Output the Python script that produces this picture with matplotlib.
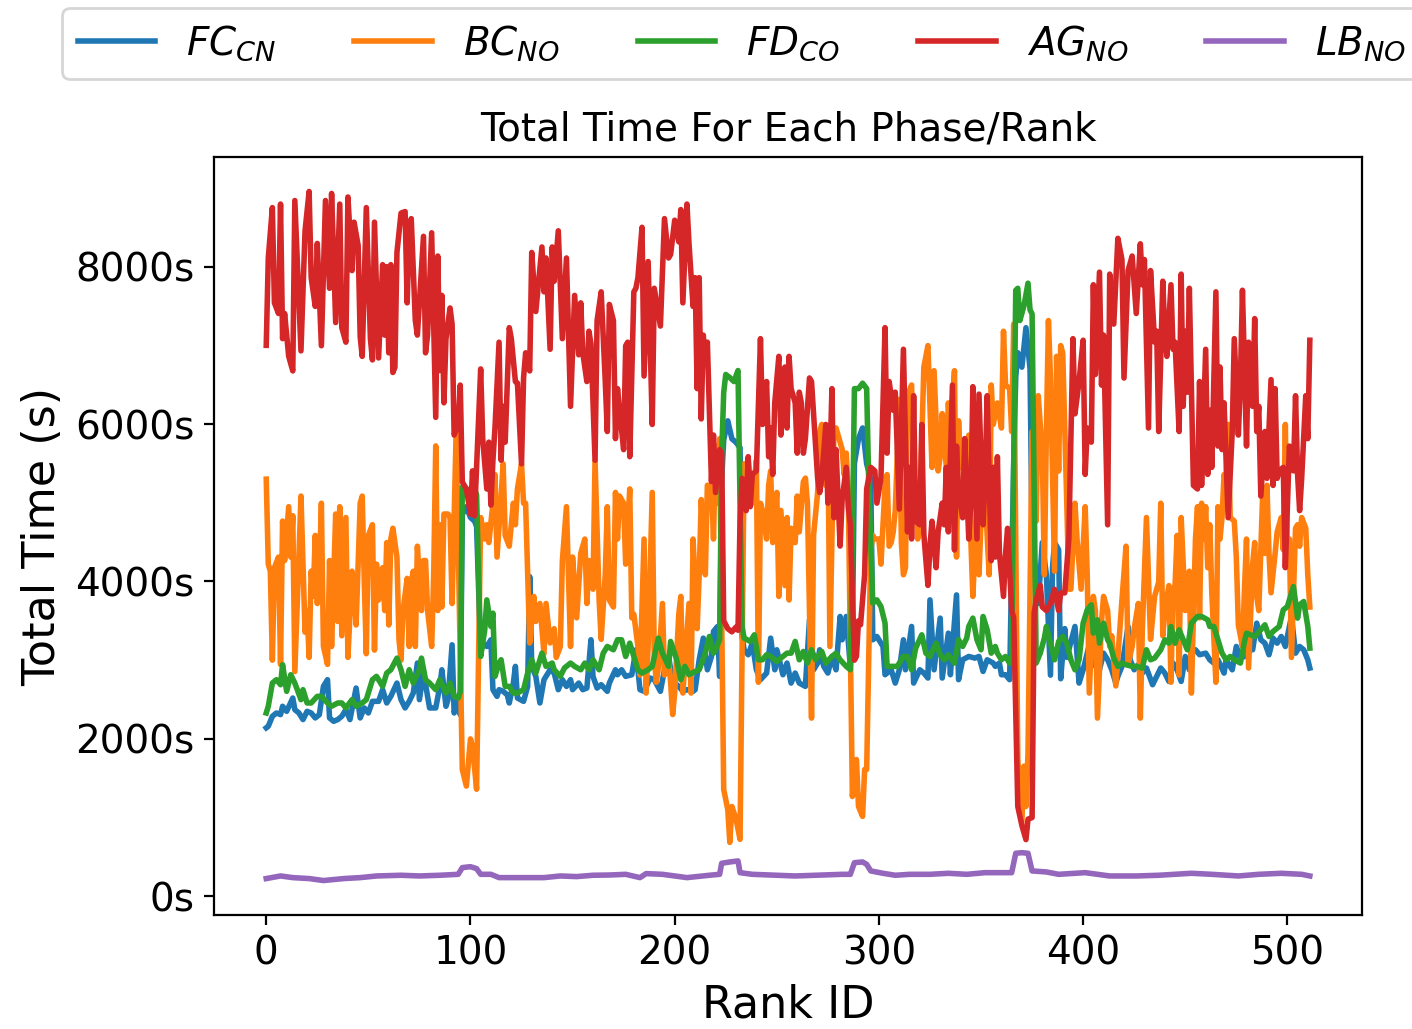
import matplotlib
matplotlib.use("Agg")
import matplotlib.pyplot as plt
from matplotlib.ticker import FuncFormatter, MultipleLocator

# Total time per rank for each phase.
# Each phase has its own list of rank ids and the times at those ranks.

fc_rank = [0, 1, 3, 5, 7, 8, 10, 13, 14, 16, 18, 20, 22, 24, 26, 28, 30, 31, 33, 35,
           37, 39, 41, 44, 46, 48, 50, 52, 55, 57, 59, 61, 64, 66, 68, 70, 72, 74, 75, 77,
           79, 80, 83, 85, 86, 88, 89, 91, 92, 94, 95, 96, 98, 100, 102, 103, 105, 106, 108, 110,
           111, 113, 114, 116, 118, 119, 121, 122, 123, 126, 128, 129, 130, 132, 134, 136, 139, 141, 143, 145,
           147, 149, 150, 153, 155, 157, 159, 160, 162, 164, 167, 168, 171, 172, 174, 176, 179, 181, 183, 185,
           188, 190, 193, 195, 197, 199, 202, 204, 206, 209, 210, 212, 214, 216, 218, 219, 221, 222, 223, 224,
           226, 228, 230, 232, 233, 234, 236, 238, 240, 242, 245, 247, 249, 250, 253, 255, 257, 259, 261, 264,
           266, 268, 270, 271, 273, 275, 277, 279, 281, 282, 284, 286, 287, 288, 290, 292, 294, 296, 297, 299,
           300, 302, 303, 306, 308, 310, 312, 313, 316, 317, 320, 322, 324, 325, 327, 330, 331, 334, 335, 338,
           339, 341, 344, 347, 349, 351, 353, 356, 357, 359, 360, 362, 364, 366, 367, 368, 370, 372, 374, 375,
           377, 378, 380, 382, 384, 385, 386, 388, 389, 391, 392, 396, 398, 400, 403, 404, 406, 408, 410, 412,
           414, 416, 417, 419, 422, 423, 425, 427, 429, 431, 434, 436, 438, 440, 442, 444, 446, 448, 450, 452,
           453, 455, 457, 460, 462, 464, 466, 469, 470, 473, 475, 477, 479, 481, 483, 485, 487, 489, 491, 493,
           495, 497, 499, 501, 502, 504, 506, 508, 510, 511]
fc_time = [2140, 2160, 2287, 2329, 2308, 2414, 2350, 2519, 2371, 2329, 2245, 2350, 2329, 2266, 2308, 2667, 2752, 2266, 2223, 2245,
           2287, 2371, 2245, 2646, 2266, 2393, 2329, 2477, 2477, 2625, 2456, 2540, 2709, 2498, 2393, 2477, 2583, 2963, 2498, 2857,
           2540, 2393, 2393, 2667, 2878, 2414, 2498, 3195, 2329, 2498, 2308, 4850, 4950, 4812, 4767, 4700, 3090, 3216, 3174, 3259,
           2625, 2540, 2625, 2604, 2561, 2456, 2709, 2921, 2519, 2477, 2667, 4062, 2921, 2794, 2456, 2752, 2878, 2836, 2625, 2752,
           2667, 2752, 2625, 2709, 2625, 2646, 3259, 2794, 2646, 2688, 2604, 2709, 2878, 2815, 2878, 2794, 2815, 3132, 2625, 2604,
           2773, 2752, 2604, 2878, 3047, 2731, 2667, 2604, 2625, 2604, 2625, 3005, 3280, 2878, 3047, 3365, 3428, 2794, 5300, 5800,
           6041, 5813, 5768, 5700, 3301, 3132, 3069, 3216, 2878, 2752, 2836, 3280, 2878, 3132, 2815, 2963, 2709, 2836, 2709, 2667,
           3512, 2878, 2963, 3132, 2921, 2836, 3047, 2878, 3555, 3259, 3555, 2921, 3259, 5500, 5813, 5950, 5495, 5300, 3259, 3301,
           3259, 3174, 2815, 2878, 2709, 2878, 3259, 2878, 3428, 2709, 2878, 2836, 2773, 3766, 2878, 3534, 2773, 3343, 2815, 3829,
           2752, 3005, 3047, 3026, 3047, 2857, 3005, 2963, 2921, 2963, 2815, 2815, 2752, 5500, 6600, 6906, 6723, 7224, 6700, 4500,
           4085, 3720, 4494, 4085, 2810, 4175, 4494, 4403, 2764, 3401, 3035, 3428, 2709, 2878, 3195, 2921, 3047, 2878, 3089, 3005,
           2878, 2709, 2794, 2921, 3428, 3005, 2878, 2942, 2836, 2900, 2688, 2794, 2900, 2836, 2730, 2963, 2878, 2730, 3047, 2878,
           3089, 3132, 3069, 3089, 3005, 2963, 3005, 2836, 3005, 2878, 3174, 3026, 3047, 3174, 3132, 3470, 3259, 3216, 3069, 3280,
           3216, 3301, 3174, 3428, 3555, 3089, 3174, 3132, 3005, 2900]

bc_rank = [0, 1, 2, 3, 4, 6, 7, 8, 9, 11, 12, 13, 14, 16, 17, 19, 20, 21, 22, 23,
           24, 25, 26, 27, 28, 30, 31, 32, 34, 35, 36, 37, 39, 40, 42, 43, 44, 46, 47, 48,
           49, 50, 52, 53, 54, 55, 57, 58, 59, 60, 61, 62, 64, 65, 66, 67, 69, 70, 71, 72,
           73, 74, 76, 77, 78, 79, 81, 82, 83, 84, 85, 86, 87, 89, 90, 91, 93, 96, 98, 100,
           101, 103, 105, 107, 108, 109, 111, 112, 113, 115, 116, 117, 119, 120, 121, 122, 123, 125, 126, 127,
           129, 131, 132, 134, 136, 137, 139, 141, 142, 144, 145, 147, 149, 150, 152, 154, 156, 157, 158, 160,
           161, 163, 164, 166, 167, 168, 170, 171, 172, 173, 175, 176, 178, 179, 180, 182, 183, 185, 186, 187,
           189, 190, 191, 192, 194, 195, 197, 198, 199, 200, 202, 203, 204, 207, 208, 209, 211, 212, 213, 214,
           215, 216, 218, 219, 220, 221, 222, 224, 226, 227, 228, 230, 232, 234, 235, 236, 238, 240, 241, 242,
           243, 245, 246, 247, 248, 250, 251, 252, 254, 255, 256, 257, 259, 260, 261, 263, 264, 265, 266, 267,
           268, 270, 271, 272, 274, 275, 276, 278, 279, 281, 282, 283, 284, 285, 287, 289, 290, 292, 293, 294,
           296, 297, 298, 300, 301, 303, 304, 305, 306, 307, 308, 310, 311, 312, 313, 314, 316, 317, 319, 320,
           322, 324, 326, 327, 329, 330, 331, 333, 334, 335, 337, 338, 339, 340, 342, 344, 345, 346, 348, 349,
           351, 352, 354, 355, 356, 358, 360, 361, 362, 364, 365, 366, 368, 370, 371, 372, 373, 375, 377, 378,
           380, 381, 382, 383, 384, 386, 387, 388, 389, 390, 392, 393, 394, 396, 397, 399, 401, 402, 403, 405,
           406, 407, 409, 410, 412, 413, 414, 416, 418, 419, 421, 422, 424, 425, 427, 428, 429, 431, 433, 435,
           437, 438, 439, 440, 442, 443, 444, 445, 446, 447, 448, 450, 451, 452, 453, 455, 456, 457, 458, 459,
           460, 461, 462, 463, 465, 466, 467, 468, 469, 470, 471, 472, 474, 475, 476, 478, 479, 480, 481, 483,
           484, 485, 486, 488, 489, 490, 491, 492, 494, 495, 497, 498, 499, 500, 501, 502, 504, 505, 506, 507,
           509, 510, 511]
bc_time = [5300, 4220, 4130, 3000, 4175, 4310, 2946, 4767, 4266, 4950, 4310, 4835, 2855, 4310, 5085, 3355, 3630, 3035, 4130, 3810,
           4585, 3720, 4085, 4994, 3174, 2946, 4266, 3174, 4857, 3492, 4950, 3310, 4812, 3035, 4130, 3856, 3447, 4994, 5085, 3993,
           3082, 4585, 4721, 3128, 4220, 3765, 4175, 3630, 4494, 3447, 4539, 4676, 4310, 3265, 3000, 3630, 4039, 3174, 3993, 4130,
           3174, 4448, 3630, 4266, 4266, 3630, 3174, 4085, 5722, 3630, 4721, 3675, 4857, 4857, 4812, 3720, 5905, 1610, 1400, 2000,
           1900, 1360, 4812, 4539, 4721, 4494, 4994, 5358, 4310, 5085, 5494, 4585, 4448, 4721, 4994, 4721, 5176, 5494, 4994, 4994,
           3219, 3810, 3492, 3720, 3082, 3720, 3219, 3400, 3035, 3174, 4266, 4950, 3174, 4310, 3538, 4357, 4539, 3720, 4266, 3902,
           5540, 3765, 3265, 4085, 4950, 3765, 3675, 5131, 4539, 5085, 4994, 4220, 5176, 3538, 3583, 3174, 2810, 4539, 2582, 3174,
           5131, 3035, 2719, 2900, 3720, 2810, 3035, 2719, 2309, 2582, 3583, 3810, 2582, 3720, 2582, 4539, 3401, 4085, 5040, 4494,
           4085, 5222, 5222, 4539, 5722, 4994, 5813, 1357, 1100, 685, 1141, 985, 723, 5495, 5313, 5540, 4994, 5540, 2719, 4994,
           4903, 4539, 5222, 5404, 4494, 5131, 3810, 4903, 3947, 4812, 3765, 4676, 4494, 5085, 4630, 5267, 5313, 4994, 3630, 2264,
           4585, 5131, 5905, 5995, 5222, 5905, 3174, 5950, 5950, 5768, 5677, 5358, 5631, 5131, 1268, 1737, 1141, 1015, 1610, 1610,
           4400, 4585, 4539, 4539, 4220, 5222, 5358, 4448, 4494, 4630, 4903, 6314, 4494, 4085, 4175, 6360, 6496, 5449, 4539, 4903,
           6723, 6997, 5449, 6678, 5404, 5586, 6132, 5449, 6268, 5905, 6678, 4310, 6041, 5449, 5449, 5859, 4539, 3810, 4994, 4085,
           5449, 5085, 4085, 6496, 5995, 6268, 5950, 7179, 6496, 6450, 5905, 7270, 1737, 940, 1653, 1141, 1822, 5905, 4767, 6360,
           5631, 4085, 5905, 7315, 6587, 4130, 6860, 5404, 6997, 6905, 4994, 3902, 3902, 4994, 4539, 3902, 4950, 4085, 2582, 3810,
           3630, 2264, 3492, 3810, 3630, 3174, 3310, 2673, 3401, 3765, 4448, 2946, 3174, 3401, 3720, 2264, 3401, 4812, 3265, 3810,
           3993, 4994, 3310, 3630, 3947, 2719, 3902, 3947, 4585, 2810, 4812, 3630, 4085, 4130, 2582, 4539, 4950, 3538, 4994, 4539,
           4950, 4175, 4721, 3856, 2719, 4950, 4539, 4812, 5358, 5267, 5995, 4812, 4767, 4310, 3447, 3174, 3902, 4539, 2900, 4220,
           4494, 3810, 3630, 5176, 4357, 5222, 4357, 3856, 4357, 4630, 4812, 4403, 5995, 4310, 4539, 3035, 4676, 4721, 4448, 4812,
           4676, 4085, 3675]

fd_rank = [0, 1, 3, 5, 7, 8, 10, 12, 14, 17, 18, 20, 22, 25, 27, 30, 32, 35, 37, 39,
           42, 44, 47, 49, 52, 54, 57, 59, 61, 64, 66, 68, 70, 72, 75, 76, 78, 80, 83, 85,
           88, 90, 92, 94, 95, 96, 98, 100, 102, 103, 105, 107, 108, 110, 111, 112, 114, 115, 117, 119,
           121, 123, 126, 128, 130, 132, 135, 137, 140, 141, 144, 146, 149, 151, 154, 156, 158, 160, 163, 165,
           167, 170, 172, 174, 176, 178, 180, 182, 184, 187, 189, 192, 194, 197, 198, 201, 203, 205, 207, 210,
           212, 215, 217, 219, 220, 222, 223, 224, 225, 227, 229, 231, 232, 233, 234, 237, 239, 241, 243, 245,
           247, 250, 252, 255, 257, 259, 261, 263, 265, 267, 269, 272, 274, 277, 279, 281, 284, 286, 287, 288,
           290, 292, 294, 295, 297, 299, 301, 303, 304, 307, 309, 312, 314, 316, 318, 321, 323, 325, 328, 330,
           332, 334, 337, 339, 341, 343, 344, 346, 348, 350, 351, 353, 355, 357, 358, 360, 362, 364, 365, 366,
           367, 368, 369, 371, 373, 374, 375, 377, 379, 381, 382, 384, 386, 388, 390, 392, 394, 396, 398, 400,
           402, 404, 405, 407, 408, 410, 412, 413, 415, 417, 419, 421, 424, 426, 429, 431, 433, 435, 438, 440,
           442, 443, 445, 447, 449, 451, 453, 456, 458, 461, 462, 464, 466, 468, 470, 472, 474, 477, 479, 480,
           482, 484, 487, 489, 491, 493, 496, 498, 500, 501, 503, 505, 506, 508, 510, 511]
fd_time = [2329, 2414, 2709, 2752, 2688, 2942, 2604, 2815, 2709, 2498, 2625, 2456, 2456, 2540, 2540, 2456, 2414, 2456, 2456, 2393,
           2498, 2414, 2456, 2498, 2752, 2794, 2667, 2836, 2878, 3026, 2878, 2667, 2878, 2709, 2878, 3026, 2752, 2709, 2625, 2752,
           2583, 2709, 2540, 2519, 2600, 5200, 5180, 5130, 5180, 5100, 3047, 3386, 3766, 3428, 3597, 2794, 2963, 3005, 2667, 2667,
           2583, 2583, 2625, 2836, 3005, 2836, 3089, 2921, 2963, 2878, 2794, 2900, 2963, 2921, 2878, 2963, 2878, 3005, 2878, 3089,
           3174, 3132, 3259, 3259, 3047, 3216, 3047, 2878, 2836, 2878, 2921, 3280, 3089, 2921, 3238, 3005, 2752, 2921, 2815, 2857,
           2878, 3089, 3301, 3089, 3132, 3259, 5600, 6400, 6630, 6590, 6540, 6680, 5000, 3428, 3280, 3238, 3322, 3005, 3005, 3069,
           3047, 2984, 3026, 3089, 3089, 3238, 3005, 3111, 2963, 3132, 3005, 3111, 2963, 3047, 3089, 3005, 2921, 2878, 4500, 6450,
           6450, 6519, 6450, 5267, 3724, 3766, 3681, 3470, 2921, 2921, 2921, 3047, 3047, 2878, 3153, 3322, 3089, 3047, 3216, 3069,
           3005, 3069, 2963, 3259, 3174, 3280, 3428, 3534, 3259, 3132, 3555, 3386, 3089, 3174, 3089, 3005, 3047, 2963, 2963, 5500,
           7700, 7725, 7315, 7500, 7790, 7450, 7400, 2963, 3089, 3280, 3428, 3216, 3005, 3238, 3301, 3216, 3005, 2878, 3005, 3470,
           3639, 3703, 3343, 3512, 3216, 3470, 3259, 3216, 3026, 2921, 2963, 2942, 2921, 2921, 2900, 3132, 3005, 3026, 3132, 3259,
           3216, 3428, 3216, 3386, 3259, 3132, 3470, 3555, 3555, 3512, 3428, 3428, 3259, 3089, 3005, 3047, 3005, 2963, 3238, 3343,
           3322, 3301, 3386, 3449, 3301, 3365, 3428, 3639, 3681, 3766, 3935, 3534, 3703, 3745, 3428, 3153]

ag_rank = [0, 1, 3, 4, 6, 7, 8, 9, 11, 13, 14, 17, 19, 21, 22, 24, 25, 27, 29, 31,
           32, 34, 36, 37, 39, 40, 42, 43, 45, 46, 47, 49, 51, 52, 53, 55, 57, 58, 59, 60,
           61, 62, 63, 64, 66, 68, 69, 70, 71, 73, 74, 77, 78, 79, 81, 83, 84, 85, 86, 87,
           88, 90, 91, 92, 94, 95, 96, 98, 100, 101, 102, 105, 106, 108, 109, 110, 111, 112, 114, 115,
           116, 117, 119, 120, 122, 123, 125, 126, 127, 129, 130, 132, 135, 136, 137, 139, 140, 141, 143, 145,
           147, 149, 151, 153, 154, 155, 157, 158, 159, 161, 162, 164, 166, 167, 168, 170, 171, 172, 173, 175,
           176, 177, 178, 180, 181, 182, 184, 185, 187, 189, 190, 193, 195, 197, 198, 200, 202, 203, 204, 206,
           207, 209, 210, 211, 212, 213, 214, 215, 216, 218, 219, 220, 222, 223, 224, 226, 228, 230, 231, 232,
           233, 235, 236, 237, 238, 240, 242, 243, 245, 246, 247, 248, 249, 251, 252, 253, 254, 255, 256, 257,
           259, 260, 261, 262, 263, 264, 266, 267, 268, 270, 271, 272, 274, 275, 276, 277, 278, 279, 281, 282,
           284, 285, 286, 288, 289, 290, 291, 293, 294, 296, 298, 299, 301, 303, 304, 305, 307, 308, 310, 312,
           314, 315, 316, 317, 318, 320, 321, 322, 324, 325, 326, 328, 329, 331, 332, 333, 334, 336, 337, 338,
           339, 341, 342, 344, 345, 346, 348, 349, 351, 352, 353, 355, 356, 357, 358, 359, 361, 362, 363, 365,
           366, 368, 370, 372, 373, 375, 376, 377, 379, 380, 382, 384, 386, 388, 389, 391, 393, 395, 396, 398,
           400, 401, 402, 404, 405, 406, 408, 409, 410, 412, 413, 415, 417, 419, 420, 422, 424, 425, 426, 428,
           429, 430, 432, 433, 435, 436, 437, 439, 440, 441, 443, 444, 445, 447, 448, 449, 450, 451, 452, 454,
           456, 457, 458, 460, 461, 462, 463, 465, 466, 467, 468, 469, 470, 471, 473, 474, 476, 477, 478, 480,
           481, 483, 484, 485, 486, 487, 489, 490, 492, 493, 494, 495, 496, 498, 499, 501, 503, 504, 505, 506,
           507, 509, 510, 511]
ag_time = [7000, 8110, 8750, 7540, 7405, 8795, 7085, 7405, 6860, 6675, 8840, 6930, 8455, 8955, 7860, 7495, 8295, 6995, 8840, 7725,
           8930, 7290, 8795, 7225, 7040, 8885, 7950, 8565, 8270, 7110, 6860, 8750, 7085, 6815, 8565, 6840, 8025, 7130, 8000, 6905,
           8025, 6655, 6720, 8180, 8680, 8700, 7540, 8450, 8610, 7315, 7130, 8385, 6905, 7130, 8430, 6085, 8135, 6680, 7635, 6270,
           7085, 7475, 7270, 5860, 5995, 6495, 5265, 5175, 4855, 5405, 4835, 6700, 5815, 5175, 5770, 4970, 5540, 5950, 7040, 5540,
           6225, 5770, 7225, 7085, 6540, 6520, 5495, 6585, 6905, 6675, 8180, 7430, 8250, 7680, 8110, 6950, 8250, 7815, 8455, 7085,
           8110, 6225, 7635, 6880, 7540, 6905, 6540, 7180, 7020, 5540, 7315, 7680, 6540, 5905, 7520, 7315, 5815, 6450, 6175, 5675,
           6995, 7040, 5585, 7680, 7725, 7860, 8500, 6610, 8065, 5995, 7725, 7245, 8610, 8110, 8155, 8590, 8315, 8725, 7540, 8795,
           8295, 7495, 7860, 6450, 7860, 6065, 7130, 6790, 7040, 5270, 5860, 5130, 5675, 5630, 3500, 3400, 3360, 3420, 3380, 4765,
           5310, 4900, 5585, 4950, 5360, 5405, 7085, 5995, 6540, 5585, 5950, 5360, 6270, 6860, 5860, 6675, 6725, 5950, 6860, 6450,
           6270, 5630, 6405, 6270, 5630, 5815, 6585, 6540, 6130, 5310, 5130, 5310, 5995, 4995, 5495, 6450, 4810, 5675, 4450, 5040,
           5450, 4950, 4720, 3000, 3050, 3500, 3450, 4085, 5175, 5450, 5405, 4995, 5310, 7225, 5630, 6540, 6175, 6405, 4920, 6950,
           4630, 5450, 4540, 6360, 4765, 4720, 5995, 4600, 3950, 4450, 4765, 4175, 4630, 4995, 4720, 5450, 4630, 6495, 4400, 5720,
           5130, 4810, 5815, 4540, 4995, 6475, 4540, 6380, 4720, 5310, 6360, 4265, 5450, 4310, 5585, 4355, 3810, 4355, 4675, 3630,
           3540, 1140, 900, 720, 980, 1000, 3600, 3765, 3950, 3675, 3630, 3720, 3900, 3630, 3855, 3855, 4540, 7085, 6130, 6540,
           7065, 5360, 5950, 5770, 7770, 6630, 7930, 6495, 7130, 4720, 7905, 7270, 8360, 8090, 6585, 7950, 8135, 7770, 7405, 8290,
           7770, 8090, 5950, 7950, 7040, 7180, 5905, 7815, 7130, 6860, 7770, 6950, 7040, 5905, 7905, 6225, 7180, 6405, 7725, 5220,
           5175, 6540, 5220, 6950, 5360, 6175, 5450, 7680, 5720, 6725, 5675, 6270, 5540, 4810, 5905, 7085, 5860, 6540, 7700, 5720,
           7040, 6225, 7340, 5905, 6225, 5085, 5905, 5310, 6565, 5220, 6450, 5310, 5405, 5450, 4175, 5720, 5405, 6360, 5360, 4900,
           5310, 6360, 5815, 7065]

lb_rank = [0, 7, 13, 21, 28, 38, 46, 54, 66, 75, 85, 94, 96, 100, 103, 105, 110, 114, 124, 136,
           144, 152, 160, 168, 176, 183, 186, 194, 206, 217, 222, 223, 227, 231, 232, 238, 250, 259, 269, 282,
           286, 288, 292, 294, 296, 302, 308, 315, 325, 334, 343, 352, 365, 367, 370, 373, 375, 382, 388, 401,
           413, 426, 437, 453, 463, 476, 486, 497, 507, 511]
lb_time = [225, 258, 237, 225, 200, 225, 237, 258, 267, 258, 267, 279, 364, 376, 351, 279, 279, 237, 237, 237,
           258, 250, 267, 270, 279, 237, 288, 279, 237, 267, 279, 419, 436, 449, 300, 279, 267, 258, 267, 279,
           279, 427, 436, 406, 322, 292, 267, 279, 279, 292, 279, 300, 300, 546, 554, 546, 322, 309, 279, 300,
           258, 258, 267, 292, 279, 258, 279, 292, 279, 258]

phases = [(fc_rank, fc_time, r"$FC_{CN}$"),
          (bc_rank, bc_time, r"$BC_{NO}$"),
          (fd_rank, fd_time, r"$FD_{CO}$"),
          (ag_rank, ag_time, r"$AG_{NO}$"),
          (lb_rank, lb_time, r"$LB_{NO}$")]

fig = plt.figure(figsize=(7.06, 5.145), dpi=200)
ax = fig.add_axes([0.1516, 0.1108, 0.8130, 0.7366])

for rank, total, label in phases:
    ax.plot(rank, total, label=label, linewidth=2)

# seconds suffix on the y ticks
ax.yaxis.set_major_locator(MultipleLocator(2000))
ax.yaxis.set_major_formatter(FuncFormatter(lambda v, pos: "%ds" % v))
ax.tick_params(labelsize=14)
ax.set_xlabel("Rank ID", fontsize=16)
ax.set_ylabel("Total Time (s)", fontsize=16)
ax.set_title("Total Time For Each Phase/Rank", fontsize=14)

# legend sits above the plot, running off the right edge like the original
handles, labels = ax.get_legend_handles_labels()
fig.legend(handles, labels, loc="upper left", bbox_to_anchor=(0.0439, 0.9922),
           borderaxespad=0, ncol=5, fontsize=14)

fig.savefig("out.png", dpi=200)
